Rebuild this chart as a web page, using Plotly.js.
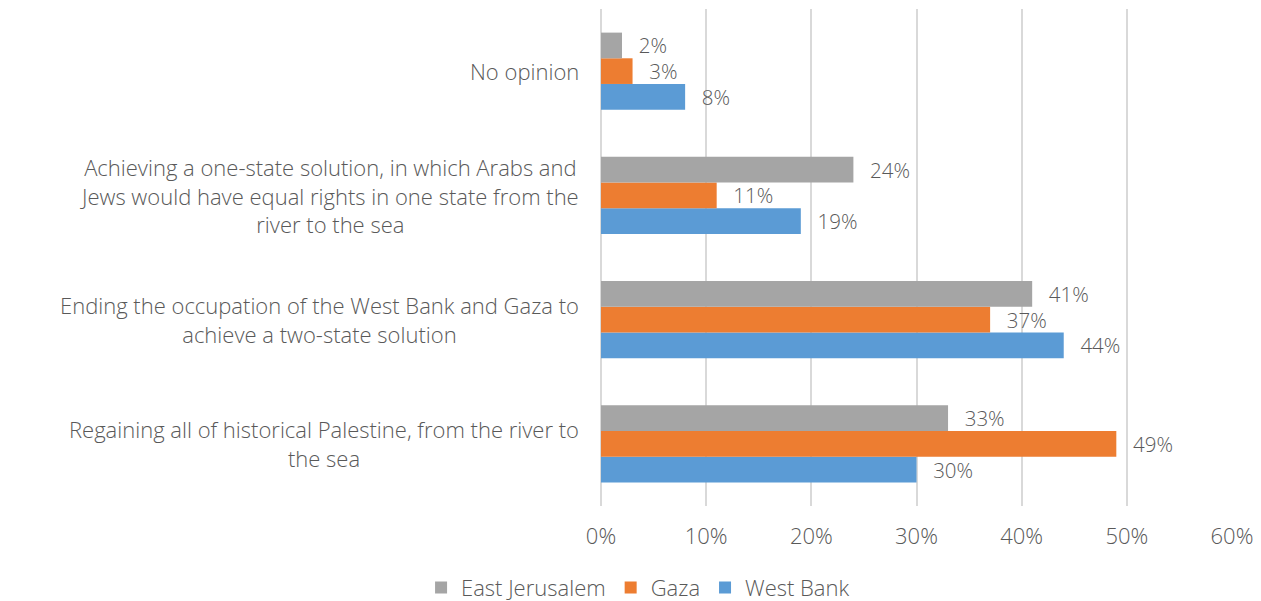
<!DOCTYPE html>
<html>
<head>
<meta charset="utf-8">
<script src="https://cdn.plot.ly/plotly-3.0.1.min.js"></script>
<style>
html,body{margin:0;padding:0;background:#fff;}
#chart{width:1261px;height:601px;}
</style>
</head>
<body>
<div id="chart"></div>
<script>
// Categories bottom-to-top as drawn
const categories = [
  "Regaining all of historical Palestine, from the river to<br>the sea",
  "Ending the occupation of the West Bank and Gaza to<br>achieve a two-state solution",
  "Achieving a one-state solution, in which Arabs and<br>Jews would have equal rights in one state from the<br>river to the sea",
  "No opinion"
];
const westBank = [30, 44, 19, 8];
const gaza = [49, 37, 11, 3];
const eastJerusalem = [33, 41, 24, 2];
const xTicks = [0, 10, 20, 30, 40, 50, 60];
const xTickLabels = ["0%", "10%", "20%", "30%", "40%", "50%", "60%"];

const FONT = "'Open Sans', Lato, sans-serif";
const TXT = "#595959";
const W = 300;
const FS = 22;

function barTrace(name, values, color) {
  return {
    type: "bar",
    orientation: "h",
    name: name,
    y: categories,
    x: values,
    marker: {color: color},
    text: values.map(v => "\u2002\u2009" + v + "%"),
    texttemplate: "%{text}",
    textposition: "outside",
    cliponaxis: false,
    constraintext: "none",
    textfont: {family: FONT, size: 20.5, color: TXT, weight: W},
    hoverinfo: "x+name"
  };
}

const data = [
  barTrace("West Bank", westBank, "#5B9BD5"),
  barTrace("Gaza", gaza, "#ED7D31"),
  barTrace("East Jerusalem", eastJerusalem, "#A5A5A5")
];

const annotations = categories.map(c => ({
  xref: "paper", yref: "y",
  x: 0, y: c,
  xanchor: "right", yanchor: "middle",
  xshift: -20,
  text: c,
  align: "center",
  showarrow: false,
  font: {family: FONT, size: FS, color: TXT, weight: W}
}));

const layout = {
  width: 1261, height: 601,
  margin: {l: 601, r: 29, t: 9, b: 95},
  paper_bgcolor: "#fff", plot_bgcolor: "#fff",
  barmode: "group",
  bargap: 0.38,
  bargroupgap: 0,
  showlegend: true,
  legend: {
    orientation: "h",
    xref: "container", yref: "container",
    x: 0.506, xanchor: "center",
    y: 0.022, yanchor: "middle",
    traceorder: "reversed",
    font: {family: FONT, size: FS, color: TXT, weight: W},
    itemclick: false
  },
  xaxis: {
    range: [0, 60],
    tickvals: xTicks,
    ticktext: xTickLabels,
    showgrid: true,
    gridcolor: "#D9D9D9",
    gridwidth: 1.5,
    zeroline: true,
    zerolinecolor: "#D9D9D9",
    zerolinewidth: 1.5,
    showline: false,
    ticks: "",
    ticklabelstandoff: 15,
    tickfont: {family: FONT, size: FS, color: TXT, weight: W},
    fixedrange: true
  },
  yaxis: {
    type: "category",
    categoryorder: "array",
    categoryarray: categories,
    showticklabels: false,
    showgrid: false,
    zeroline: false,
    showline: false,
    ticks: "",
    fixedrange: true
  },
  annotations: annotations
};

Plotly.newPlot("chart", data, layout, {displayModeBar: false, staticPlot: false});
</script>
</body>
</html>
